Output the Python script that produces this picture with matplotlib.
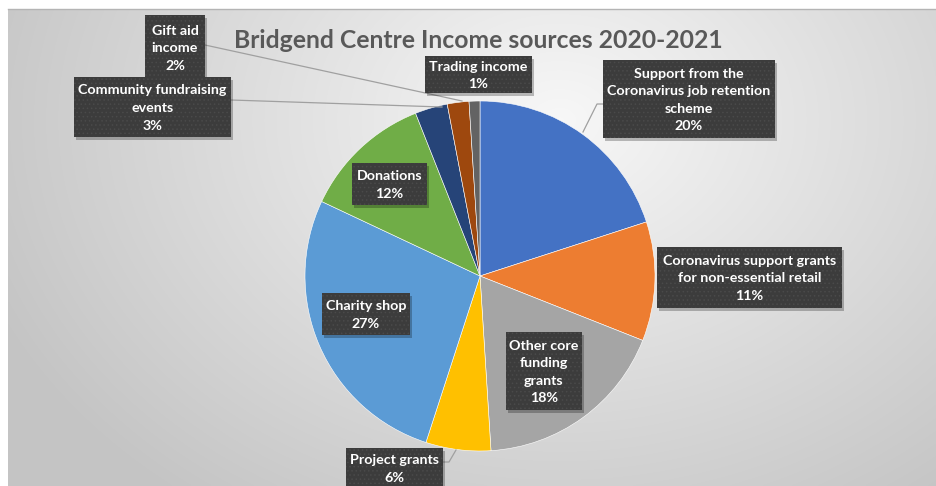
import numpy as np
import matplotlib
matplotlib.use('Agg')
import matplotlib.pyplot as plt
from matplotlib.patches import Rectangle

plt.rcParams['font.family'] = ['Lato', 'DejaVu Sans']
plt.rcParams['hatch.linewidth'] = 0.6

labels = ['Support from the\nCoronavirus job retention\nscheme',
          'Coronavirus support grants\nfor non-essential retail',
          'Other core\nfunding\ngrants',
          'Project grants',
          'Charity shop',
          'Donations',
          'Community fundraising\nevents',
          'Gift aid\nincome',
          'Trading income']
shares = [20, 11, 18, 6, 27, 12, 3, 2, 1]
colors = ['#4472C4', '#ED7D31', '#A5A5A5', '#FFC000', '#5B9BD5',
          '#70AD47', '#264478', '#9E480E', '#636363']
title = 'Bridgend Centre Income sources 2020-2021'

# label boxes in pixels (left, top, right, bottom), y measured from the top
boxes = [(603, 60, 775, 138), (657, 247, 842, 308), (506, 332, 582, 410),
         (346, 448, 443, 492), (322, 293, 410, 335), (352, 163, 427, 205),
         (74, 77, 231, 137), (145, 15, 205, 80), (425, 56, 532, 93)]
# leader lines in pixels
leaders = [[(603, 104), (597, 104), (583, 132)],
           [(205, 45), (462, 101)],
           [(231, 100), (442, 107)],
           [(443, 462), (449, 462), (456, 450)]]

W, H = 937, 486
fig = plt.figure(figsize=(W / 100, H / 100), dpi=100)
ax = fig.add_axes([0, 0, 1, 1])


def fy(y):
    return H - y


# background gradient
xx, yy = np.meshgrid(np.linspace(8, W, 400), np.linspace(9, H, 220))
d = np.sqrt(((xx - 560) / 620) ** 2 + ((yy - 120) / 480) ** 2)
d = np.clip(d, 0, 1)
c0, c1 = 0.97, 0.77
img = c0 + (c1 - c0) * d
ax.imshow(np.dstack([img] * 3), extent=(8, W, fy(H), fy(9)), origin='upper',
          aspect='auto', zorder=0, interpolation='bilinear')
ax.plot([8, W], [fy(9), fy(9)], color='#b4b4b4', lw=1, zorder=1)

ax.pie(shares, colors=colors, startangle=90, counterclock=False,
       center=(480, fy(276)), radius=175, frame=True,
       wedgeprops=dict(linewidth=0.4, edgecolor='white'))
ax.set_xlim(0, W)
ax.set_ylim(0, H)
ax.axis('off')

for pts in leaders:
    ax.plot([p[0] for p in pts], [fy(p[1]) for p in pts], color='#a0a0a0',
            lw=0.9, zorder=3)

for lab, val, (l, t, r, b) in zip(labels, shares, boxes):
    ax.add_patch(Rectangle((l + 2, fy(b) - 3), r - l, b - t, fc='black',
                           alpha=0.25, lw=0, zorder=4))
    ax.add_patch(Rectangle((l, fy(b)), r - l, b - t, fc='#3c3c3c',
                           ec='#4a4a4a', lw=0, hatch='....', zorder=5))
    cy = (t + b) / 2 + 1 if b <= H else 469
    ax.text((l + r) / 2, fy(cy), f'{lab}\n{val}%', ha='center', va='center',
            color='white', fontsize=10.3, fontweight='bold', linespacing=1.55,
            zorder=6)

ax.text(478, fy(40), title, ha='center', va='center', fontsize=17.8,
        fontweight='bold', color='#595959', zorder=6)

fig.savefig('out.png', dpi=100)
